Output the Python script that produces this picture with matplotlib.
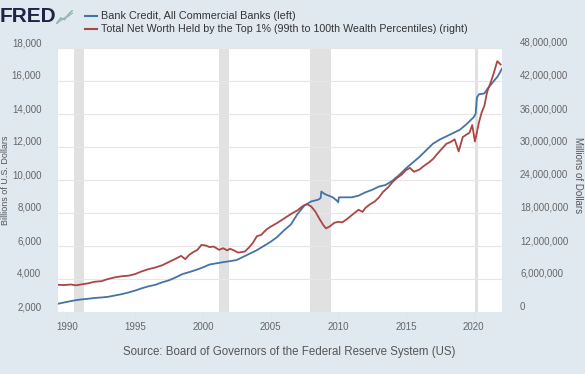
import matplotlib.pyplot as plt
from matplotlib.ticker import FuncFormatter

# Bank credit, all commercial banks (billions of dollars, left axis)
credit_years = [1989.3, 1990.0, 1990.5, 1991.0, 1991.5, 1992.0, 1992.5, 1993.0, 1993.5,
                1994.0, 1994.5, 1995.0, 1995.5, 1996.0, 1996.5, 1997.0, 1997.5, 1998.0,
                1998.5, 1999.0, 1999.5, 2000.0, 2000.5, 2001.0, 2001.5, 2002.0, 2002.5,
                2003.0, 2003.5, 2004.0, 2004.5, 2005.0, 2005.5, 2006.0, 2006.5, 2007.0,
                2007.5, 2008.0, 2008.5, 2008.7, 2008.75, 2009.0, 2009.3, 2009.6, 2009.9,
                2010.0, 2010.05, 2010.5, 2011.0, 2011.5, 2012.0, 2012.5, 2013.0, 2013.5,
                2014.0, 2014.5, 2015.0, 2015.5, 2016.0, 2016.5, 2017.0, 2017.5, 2018.0,
                2018.5, 2019.0, 2019.5, 2020.0, 2020.15, 2020.25, 2020.4, 2020.5, 2020.8,
                2021.0, 2021.5, 2021.8, 2022.1]
credit = [2500, 2620, 2700, 2760, 2800, 2850, 2880, 2920, 3000,
          3080, 3180, 3300, 3440, 3560, 3650, 3800, 3920, 4100,
          4300, 4420, 4550, 4700, 4880, 4950, 5020, 5080, 5150,
          5350, 5550, 5750, 6000, 6250, 6550, 6950, 7300, 7950,
          8450, 8700, 8800, 8900, 9300, 9150, 9050, 8950, 8750,
          8650, 8950, 8950, 8950, 9050, 9250, 9400, 9600, 9700,
          9950, 10300, 10700, 11050, 11400, 11800, 12200, 12450, 12650,
          12850, 13050, 13400, 13800, 14000, 15000, 15200, 15200, 15250,
          15500, 16000, 16300, 16750]

# Total net worth held by the top 1% (millions of dollars, right axis)
wealth_years = [1989.3, 1989.75, 1990.25, 1990.6, 1991.0, 1991.5, 1992.0, 1992.5, 1993.0,
                1993.5, 1994.0, 1994.5, 1995.0, 1995.5, 1996.0, 1996.5, 1997.0, 1997.5,
                1998.0, 1998.4, 1998.7, 1999.0, 1999.3, 1999.6, 1999.9, 2000.2, 2000.5,
                2000.8, 2001.2, 2001.5, 2001.8, 2002.0, 2002.3, 2002.6, 2002.9, 2003.1,
                2003.4, 2003.7, 2004.0, 2004.3, 2004.7, 2005.0, 2005.5, 2006.0, 2006.5,
                2007.0, 2007.4, 2007.7, 2008.0, 2008.3, 2008.6, 2008.9, 2009.1, 2009.4,
                2009.7, 2010.0, 2010.3, 2010.7, 2011.0, 2011.3, 2011.5, 2011.8, 2012.0,
                2012.3, 2012.7, 2013.0, 2013.3, 2013.7, 2014.0, 2014.3, 2014.7, 2015.0,
                2015.3, 2015.6, 2016.0, 2016.3, 2016.7, 2017.0, 2017.3, 2017.7, 2018.0,
                2018.3, 2018.6, 2018.9, 2019.2, 2019.5, 2019.7, 2019.9, 2020.1, 2020.4,
                2020.6, 2020.8, 2021.0, 2021.3, 2021.5, 2021.75, 2022.0]
wealth = [4.95, 4.9, 5.0, 4.85, 5.0, 5.2, 5.5, 5.6, 6.0,
          6.3, 6.5, 6.6, 6.9, 7.4, 7.8, 8.1, 8.5, 9.1,
          9.7, 10.2, 9.6, 10.4, 10.9, 11.3, 12.2, 12.1, 11.8,
          11.9, 11.3, 11.6, 11.2, 11.5, 11.2, 10.8, 10.9, 11.0,
          11.7, 12.6, 13.8, 14.0, 15.0, 15.5, 16.2, 17.0, 17.8,
          18.5, 19.3, 19.6, 19.2, 18.3, 17.0, 15.8, 15.2, 15.6,
          16.2, 16.4, 16.3, 17.0, 17.6, 18.2, 18.6, 18.2, 18.9,
          19.5, 20.1, 20.8, 21.8, 22.7, 23.6, 24.3, 25.0, 25.8,
          26.2, 25.5, 25.9, 26.5, 27.2, 27.8, 28.7, 29.8, 30.6,
          30.9, 31.4, 29.2, 31.8, 32.3, 32.6, 34.0, 31.0, 34.5,
          36.3, 37.5, 40.0, 42.0, 43.5, 45.6, 45.0]
wealth = [w * 1e6 for w in wealth]

recessions = [(1990.5, 1991.2), (2001.2, 2001.9), (2007.9, 2009.5), (2020.1, 2020.3)]

bg = '#e1e9f0'
blue = '#4572a7'
red = '#aa4643'
txt = '#666666'
font = 'Liberation Sans'

fig = plt.figure(figsize=(5.85, 3.74), dpi=100, facecolor=bg)
ax = fig.add_axes([58/585, 1 - 312/374, 444/585, 264/374])
ax.set_facecolor('white')
ax2 = ax.twinx()

for a, b in recessions:
    ax.axvspan(a, b, color='#e1e1e1', lw=0, zorder=0)

ax.plot(credit_years, credit, color=blue, lw=1.3, zorder=3)
ax2.plot(wealth_years, wealth, color=red, lw=1.3, zorder=3)

ax.set_xlim(1989.3, 2022.1)
ax.set_ylim(2000, 18000)
ax2.set_ylim(0, 48e6)
ax.set_yticks(range(2000, 18001, 2000))
ax2.set_yticks(range(0, 48000001, 6000000))
ax.set_xticks(range(1990, 2021, 5))
ax.grid(axis='y', color='#e6e6e6', lw=0.8)
ax.set_axisbelow(True)

comma = FuncFormatter(lambda v, p: f'{int(v):,}')
ax.yaxis.set_major_formatter(comma)
ax2.yaxis.set_major_formatter(comma)

for s in list(ax.spines.values()) + list(ax2.spines.values()):
    s.set_visible(False)

ax.tick_params(axis='y', length=0, pad=12, labelsize=7, labelcolor=txt)
ax2.tick_params(axis='y', length=0, pad=13, labelsize=7, labelcolor=txt)
ax.tick_params(axis='x', length=4, color='#e1e1e1', pad=3, labelsize=7, labelcolor=txt)
for lab in ax.get_yticklabels() + ax2.get_yticklabels() + ax.get_xticklabels():
    lab.set_fontfamily(font)
for lab in ax.get_yticklabels() + ax2.get_yticklabels():
    lab.set_verticalalignment('bottom')

fig.text(578/585, 1 - 175/374, 'Millions of Dollars', rotation=270, ha='center', va='center',
         fontsize=7, color='#555555', family=font)
fig.text(6/585, 1 - 180/374, 'Billions of U.S. Dollars', rotation=90, ha='center', va='center',
         fontsize=6.5, color='#555555', family=font)

# header with logo and legend
fig.text(0, 1 - 17/374, 'FRED', fontsize=15, fontweight='bold', color='#1d2547',
         family=font, ha='left', va='center')
icon = fig.add_axes([56/585, 1 - 24/374, 17/585, 14/374])
icon.set_facecolor(bg)
icon.plot([0, 1, 2, 3, 4], [0, 1.5, 1, 2.5, 3.5], color='#8fb59a', lw=1)
icon.plot([0, 1, 2, 3, 4], [0, 0.8, 1.5, 2, 2.8], color='#9bb0c8', lw=1)
icon.axis('off')

fig.lines.append(plt.Line2D([85/585, 97/585], [1 - 16/374, 1 - 16/374], color=blue, lw=1.5,
                            transform=fig.transFigure))
fig.lines.append(plt.Line2D([85/585, 97/585], [1 - 29/374, 1 - 29/374], color=red, lw=1.5,
                            transform=fig.transFigure))
fig.text(101/585, 1 - 16/374, 'Bank Credit, All Commercial Banks (left)', fontsize=7.8,
         color='#333333', family=font, va='center')
fig.text(101/585, 1 - 29/374,
         'Total Net Worth Held by the Top 1% (99th to 100th Wealth Percentiles) (right)',
         fontsize=7.7, color='#333333', family=font, va='center')

fig.text(289/585, 1 - 352/374, 'Source: Board of Governors of the Federal Reserve System (US)',
         fontsize=8.3, color='#555555', family=font, ha='center', va='center')

fig.savefig('out.png', dpi=100, facecolor=bg)
